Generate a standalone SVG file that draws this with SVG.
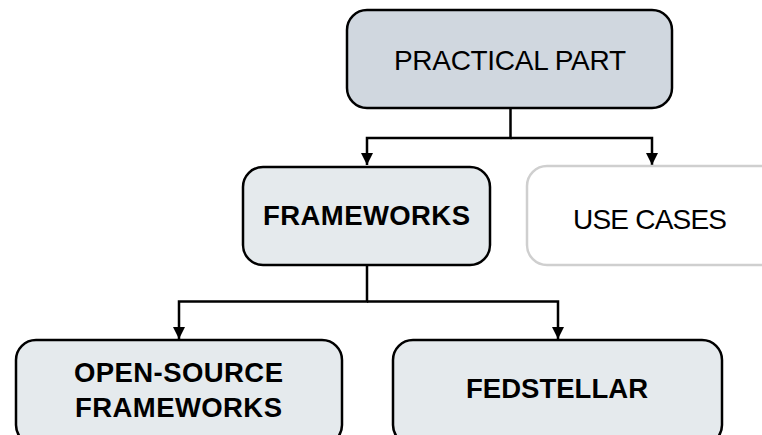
<svg xmlns="http://www.w3.org/2000/svg" width="762" height="435" viewBox="0 0 762 435">
<style>
.box{stroke:#000;stroke-width:2.5}
.dark{fill:#d0d7df}
.light{fill:#e5eaed}
.ghost{fill:#fff;stroke:#cfcfcf;stroke-width:2.5}
.t{font-family:"Liberation Sans",Arial,Helvetica,sans-serif;font-size:28px;fill:#000}
.b{font-weight:bold;font-size:27.5px}
.c{fill:none;stroke:#000;stroke-width:2.5}
</style>
<defs>
<marker id="ah" viewBox="0 0 10 10" refX="10" refY="5" markerWidth="12" markerHeight="12" markerUnits="userSpaceOnUse" orient="auto">
<path d="M0,0 L10,5 L0,10 z" fill="#000"/>
</marker>
</defs>
<g id="connectors">
<path class="c" d="M510.5,109 V138 H367 V165" marker-end="url(#ah)"/>
<path class="c" d="M510.5,138 H652 V165" marker-end="url(#ah)"/>
<path class="c" d="M367,266 V301.5 H179 V339" marker-end="url(#ah)"/>
<path class="c" d="M367,301.5 H558 V339" marker-end="url(#ah)"/>
</g>
<g id="practical-part">
<rect class="box dark" x="347" y="10" width="325" height="98" rx="20"/>
<text class="t" x="394" y="69.5" textLength="232" lengthAdjust="spacing">PRACTICAL PART</text>
</g>
<g id="frameworks">
<rect class="box light" x="243" y="167" width="247" height="98" rx="20"/>
<text class="t b" x="263" y="224.5" textLength="207" lengthAdjust="spacing">FRAMEWORKS</text>
</g>
<g id="use-cases">
<rect class="ghost" x="527" y="166" width="260" height="99" rx="20"/>
<text class="t" x="573" y="228.5" textLength="154" lengthAdjust="spacing">USE CASES</text>
</g>
<g id="open-source-frameworks">
<rect class="box light" x="16" y="340" width="326" height="105" rx="20"/>
<text class="t b" x="74" y="381.5" textLength="209" lengthAdjust="spacing">OPEN-SOURCE</text>
<text class="t b" x="75" y="416.5" textLength="207" lengthAdjust="spacing">FRAMEWORKS</text>
</g>
<g id="fedstellar">
<rect class="box light" x="393" y="340" width="329" height="105" rx="20"/>
<text class="t b" x="466" y="398" textLength="182" lengthAdjust="spacing">FEDSTELLAR</text>
</g>
</svg>
